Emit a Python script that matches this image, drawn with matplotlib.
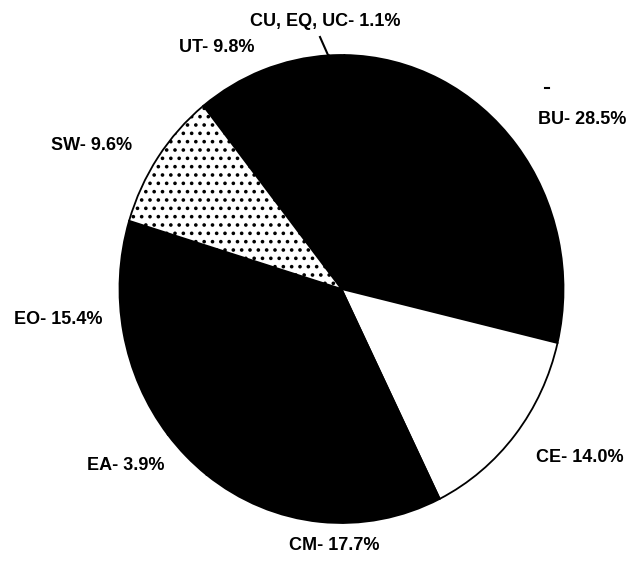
import matplotlib
matplotlib.use('Agg')
import matplotlib.pyplot as plt

# slice data, clockwise from the top-left
codes = ['UT', 'CU, EQ, UC', 'BU', 'CE', 'CM', 'EA', 'EO', 'SW']
shares = [9.8, 1.1, 28.5, 14.0, 17.7, 3.9, 15.4, 9.6]
fills = ['black', 'black', 'black', 'white', 'black', 'black', 'black', 'white']
hatches = [None, None, None, None, None, None, None, '..']

# label centres in pixels (x from left, y from top)
label_x = [217, 325, 582, 580, 334, 126, 58, 92]
label_y = [48, 21, 120, 458, 546, 466, 319, 145]

W, H = 630, 561
CX, CY = 341.5, 289      # pie centre (px)
RX, RY = 222, 234        # scanned pie is slightly taller than wide

plt.rcParams['font.family'] = ['Liberation Sans', 'DejaVu Sans']
plt.rcParams['hatch.linewidth'] = 1.4

fig = plt.figure(figsize=(W / 100, H / 100), dpi=100)
ax = fig.add_axes([0, 0, 1, 1])

wedges, _ = ax.pie(shares, colors=fills, startangle=128.5, counterclock=False,
                   wedgeprops=dict(edgecolor='black', linewidth=1.3))
for w, h in zip(wedges, hatches):
    if h:
        w.set_hatch(h)

ax.set_aspect('auto')
ax.set_xlim(-CX / RX, (W - CX) / RX)
ax.set_ylim((CY - H) / RY, CY / RY)
ax.axis('off')

for code, s, x, y in zip(codes, shares, label_x, label_y):
    fig.text(x / W, 1 - y / H, f'{code}- {s:.1f}%', ha='center', va='center',
             fontsize=13, fontweight='bold')

# leader line for the tiny slice
fig.add_artist(plt.Line2D([320 / W, 328 / W], [1 - 37 / H, 1 - 55 / H],
                          color='black', linewidth=1.5))
# stray tick mark above the BU label
fig.add_artist(plt.Line2D([545 / W, 549 / W], [1 - 88 / H, 1 - 88 / H],
                          color='black', linewidth=1.5))

fig.savefig('out.png', dpi=100, facecolor='white')
